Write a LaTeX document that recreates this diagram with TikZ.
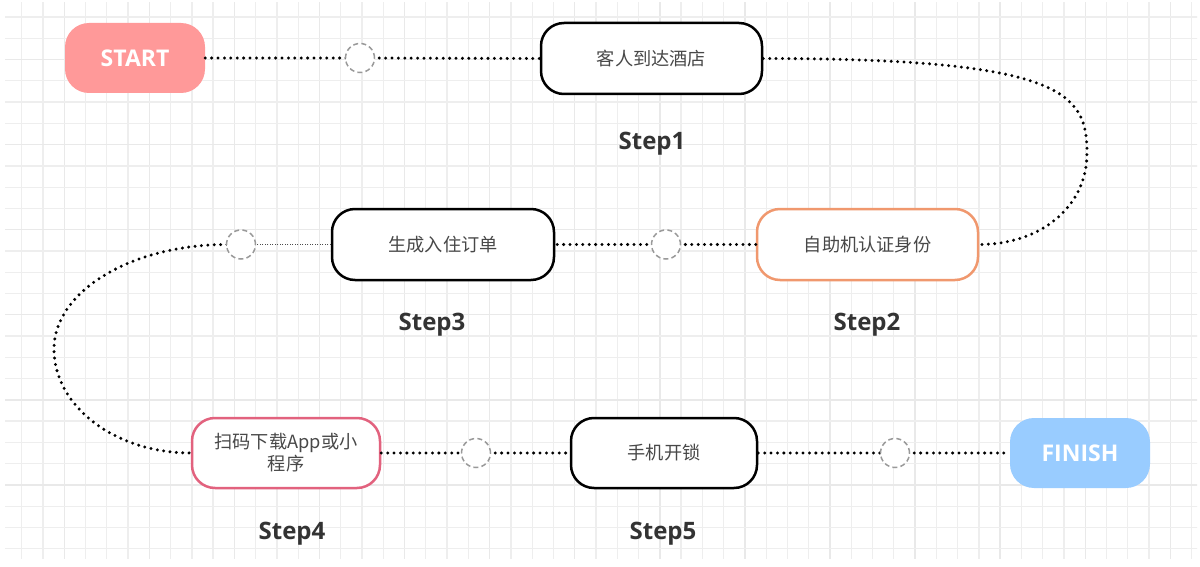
\documentclass[tikz,border=0pt]{standalone}
\usepackage{fontspec}
\setmainfont{Open Sans}
\newfontfamily\cjk{Noto Sans CJK SC}
\definecolor{startfill}{RGB}{255,153,153}
\definecolor{finishfill}{RGB}{153,204,255}
\definecolor{orangeb}{RGB}{240,152,110}
\definecolor{pinkb}{RGB}{226,98,126}
\definecolor{gridminor}{RGB}{238,238,238}
\definecolor{gridmajor}{RGB}{233,233,233}
\definecolor{txt}{RGB}{72,72,72}
\definecolor{steptxt}{RGB}{51,51,51}
\tikzset{
  term/.style={rectangle, rounded corners=24pt, minimum width=140pt, minimum height=70pt, inner sep=0pt,
    text=white, font=\fontsize{23}{26}\selectfont\bfseries},
  proc/.style={rectangle, rounded corners=23pt, draw, line width=2.5pt, fill=white, inner sep=0pt,
    minimum height=71pt, text=txt, align=center, font=\cjk\fontsize{18.2}{22}\selectfont},
  hub/.style={circle, draw=gray!80, dashed, dash pattern=on 5pt off 3.2pt, line width=1.5pt, fill=white,
    minimum size=29pt, inner sep=0pt},
  steplabel/.style={text=steptxt, font=\fontsize{24}{27}\selectfont\bfseries},
  dots/.style={line width=3.3pt, line cap=round, dash pattern=on 0pt off 6.4pt, black},
  finedots/.style={line width=1.1pt, dash pattern=on 1.2pt off 1.3pt, black!70}
}
\begin{document}
\begin{tikzpicture}[x=1pt,y=-1pt]
\useasboundingbox (0,0) rectangle (1200,567);
\fill[white] (0,0) rectangle (1200,567);
% grid
\begin{scope}
\clip (5,3) rectangle (1197,558);
\foreach \k in {0,...,56} {
  \pgfmathsetmacro{\xx}{21.7+21.27*\k}
  \pgfmathtruncatemacro{\m}{mod(\k,4)}
  \ifnum\m=2
    \draw[gridmajor, line width=1.4pt] (\xx,0) -- (\xx,567);
  \else
    \draw[gridminor, line width=1.3pt] (\xx,0) -- (\xx,567);
  \fi
}
\foreach \k in {0,...,26} {
  \pgfmathsetmacro{\yy}{17+21.27*\k}
  \pgfmathtruncatemacro{\m}{mod(\k,4)}
  \ifnum\m=2
    \draw[gridmajor, line width=1.4pt] (0,\yy) -- (1200,\yy);
  \else
    \draw[gridminor, line width=1.3pt] (0,\yy) -- (1200,\yy);
  \fi
}
\end{scope}

% nodes
\node[term, fill=startfill] (start) at (135,58) {START};
\node[proc, minimum width=221pt] (n1) at (651.5,58.5) {客人到达酒店};
\node[proc, draw=orangeb, minimum width=221pt] (n2) at (867.5,244.5) {自助机认证身份};
\node[proc, minimum width=222pt] (n3) at (443,244.5) {生成入住订单};
\node[proc, draw=pinkb, minimum width=188pt, minimum height=70pt] (n4) at (286,453) {扫码下载App或小\\程序};
\node[proc, minimum width=186pt, minimum height=70pt] (n5) at (664,453) {手机开锁};
\node[term, fill=finishfill] (finish) at (1080,453) {FINISH};

\coordinate (r) at (1087,153);
\coordinate (l) at (54,349);

% connectors
\draw[dots] (start.east) -- (360,58);
\draw[dots] (360,58) -- (n1.west);
\draw[dots] (n1.east) .. controls +(300,0) and +(0,-60) .. (r) .. controls +(0,55) and +(60,0) .. (n2.east);
\draw[dots] (n2.west) -- (666,244.5);
\draw[dots] (666,244.5) -- (n3.east);
\draw[finedots] (n3.west) -- (241,244.5);
\draw[dots] (227,244.5) .. controls +(-95,0) and +(0,-58) .. (l) .. controls +(0,57) and +(-76,0) .. (n4.west);
\draw[dots] (n4.east) -- (476,453);
\draw[dots] (476,453) -- (n5.west);
\draw[dots] (n5.east) -- (895,453);
\draw[dots] (895,453) -- (finish.west);

% hubs
\node[hub] (c1) at (360,58) {};
\node[hub] (c2) at (666,244.5) {};
\node[hub] (c3) at (241,244.5) {};
\node[hub] (c4) at (476,453) {};
\node[hub] (c5) at (895,453) {};

% step labels
\node[steplabel] (s1) at (652,144) {Step1};
\node[steplabel] (s2) at (867,325) {Step2};
\node[steplabel] (s3) at (432,325) {Step3};
\node[steplabel] (s4) at (292,534) {Step4};
\node[steplabel] (s5) at (663,534) {Step5};
\end{tikzpicture}
\end{document}
